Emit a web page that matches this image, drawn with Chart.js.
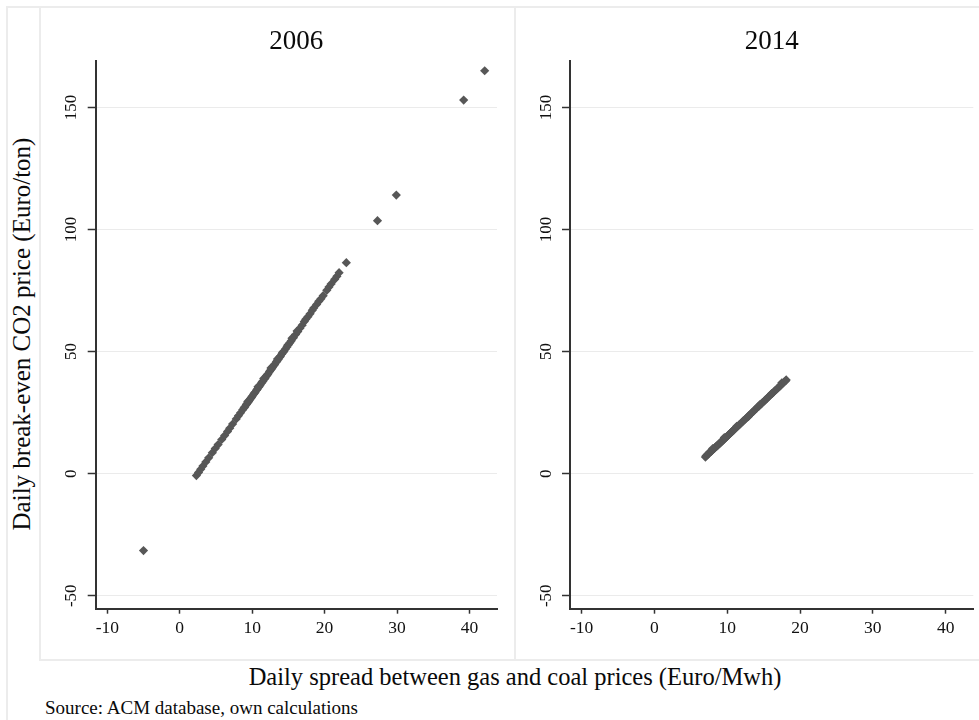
<!DOCTYPE html>
<html>
<head>
<meta charset="utf-8">
<script src="https://cdn.jsdelivr.net/npm/chart.js@4.4.1/dist/chart.umd.min.js"></script>
<style>
  body { margin: 0; background: #fff; }
  #page { position: relative; width: 979px; height: 720px; overflow: hidden; font-family: 'Liberation Serif', 'Times New Roman', serif; color: #0a0a0a; }
  .frame { position: absolute; box-sizing: border-box; border: 2px solid #ececec; }
  .panel { position: absolute; top: 7px; height: 653px; }
  .txt { position: absolute; white-space: nowrap; }
</style>
</head>
<body>
<div id="page">
  <div class="frame" style="left:6px;top:6px;width:1000px;height:1000px;border-right:none;border-bottom:none"></div>
  <div class="frame" style="left:39px;top:6px;width:477px;height:655px"></div>
  <div class="frame" style="left:514px;top:6px;width:480px;height:655px"></div>
  <div class="panel" style="left:40px;width:475px"><canvas id="chart-2006"></canvas></div>
  <div class="panel" style="left:515px;width:464px"><canvas id="chart-2014"></canvas></div>
  <div class="txt" style="left:22px;top:334px;font-size:25px;transform:translate(-50%,-50%) rotate(-90deg)">Daily break-even CO2 price (Euro/ton)</div>
  <div class="txt" style="left:515px;top:677px;font-size:24.5px;transform:translate(-50%,-50%)">Daily spread between gas and coal prices (Euro/Mwh)</div>
  <div class="txt" style="left:45px;top:708px;font-size:19px;transform:translateY(-50%)">Source: ACM database, own calculations</div>
</div>
<script>
// ── Data ──────────────────────────────────────────────────────────────────────
const X_TICKS = [-10, 0, 10, 20, 30, 40];
const Y_TICKS = [-50, 0, 50, 100, 150];

const X_2006 = [-5.0, 2.3, 2.6, 2.9, 3.2, 3.6, 4.0, 4.5, 4.9, 5.3, 5.8, 6.2, 6.6, 6.9, 7.3, 7.8, 8.1, 8.4, 8.7,
  8.9, 9.0, 9.2, 9.3, 9.5, 9.6, 9.8, 9.9, 10.0, 10.2, 10.3, 10.4, 10.6, 10.7, 10.9, 11.0, 11.1, 11.3, 11.4, 11.5,
  11.7, 11.8, 12.0, 12.1, 12.2, 12.4, 12.5, 12.7, 12.8, 13.0, 13.1, 13.3, 13.4, 13.6, 13.8, 13.9, 14.1, 14.3, 14.4,
  14.6, 14.8, 15.0, 15.2, 15.4, 15.7, 16.0, 16.3, 16.6, 16.9, 17.2, 17.4, 17.7, 18.0, 18.3, 18.5, 18.9, 19.2, 19.5,
  19.8, 20.3, 20.6, 20.9, 21.4, 21.7, 22.0, 23.0, 27.3, 29.9, 39.2, 42.1,
  9.4, 10.8, 11.6, 12.6, 13.5, 14.2, 14.9, 15.5, 16.2];
const Y_2006 = [-31.5, -0.8, 0.5, 1.8, 3.1, 4.8, 6.5, 8.6, 10.3, 11.9, 14.0, 15.6, 17.3, 18.6, 20.3, 22.4, 23.7, 24.9, 26.2,
  27.0, 27.4, 28.3, 28.7, 29.5, 30.0, 30.8, 31.2, 31.7, 32.5, 32.9, 33.3, 34.2, 34.6, 35.4, 35.9, 36.3, 37.1, 37.6, 38.0,
  38.8, 39.2, 40.1, 40.5, 40.9, 41.8, 42.2, 43.0, 43.5, 44.3, 44.7, 45.6, 46.0, 46.8, 47.7, 48.1, 49.0, 49.8, 50.2,
  51.1, 51.9, 52.8, 53.6, 54.4, 55.7, 57.0, 58.2, 59.6, 60.8, 62.3, 63.2, 64.3, 65.5, 66.9, 67.8, 69.3, 70.6, 71.6,
  72.9, 75.1, 76.4, 77.7, 79.6, 80.8, 82.3, 86.4, 103.6, 114.1, 153.0, 165.0,
  29.6, 35.6, 39.0, 43.3, 47.0, 49.6, 52.6, 55.5, 58.4];

const X_2014 = [7.0, 7.1, 7.2, 7.3, 7.4, 7.5, 7.6, 7.7, 7.8, 7.9, 8.0, 8.1, 8.2, 8.3, 8.4, 8.5, 8.6, 8.7, 8.8, 8.9,
  9.0, 9.1, 9.2, 9.3, 9.4, 9.5, 9.6, 9.7, 9.8, 9.9, 10.0, 10.1, 10.2, 10.3, 10.4, 10.5, 10.6, 10.7, 10.8, 10.9, 11.0,
  11.2, 11.4, 11.6, 11.8, 12.0, 12.2, 12.4, 12.6, 12.8, 13.0, 13.2, 13.4, 13.6, 13.8, 14.0, 14.2, 14.4, 14.6, 14.8,
  15.0, 15.2, 15.4, 15.6, 15.8, 16.0, 16.2, 16.4, 16.6, 16.8, 17.0, 17.2, 17.4, 17.5, 17.6, 17.8, 18.0, 18.1,
  8.0, 9.6, 11.3, 12.9, 14.5, 16.1];
const Y_2014 = [6.8, 7.3, 7.5, 7.9, 8.1, 8.4, 8.8, 9.0, 9.1, 9.5, 9.8, 10.0, 10.3, 10.6, 10.9, 11.2, 11.4, 11.6, 12.0, 12.3,
  12.5, 12.8, 13.1, 13.4, 13.6, 14.0, 14.2, 14.5, 14.7, 15.1, 15.3, 15.7, 15.9, 16.2, 16.5, 16.8, 17.0, 17.4, 17.6, 17.9, 18.2,
  18.8, 19.3, 19.9, 20.4, 21.0, 21.6, 22.1, 22.7, 23.2, 23.9, 24.4, 25.0, 25.5, 26.2, 26.7, 27.3, 27.8, 28.4, 29.0,
  29.5, 30.1, 30.6, 31.3, 31.8, 32.4, 32.9, 33.5, 34.1, 34.6, 35.2, 35.7, 36.4, 37.2, 36.9, 37.5, 38.0, 38.4,
  10.3, 14.8, 19.4, 23.4, 28.3, 32.8];

// ── Shared look ───────────────────────────────────────────────────────────────
const FONT   = "'Liberation Serif', 'Times New Roman', serif";
const MARKER = '#575757';
const AXIS   = '#333';

function makePanel(id, title, xs, ys, yWidth, rightPad) {
  const points = xs.map((x, i) => ({ x, y: ys[i] }));
  return new Chart(document.getElementById(id), {
    type: 'scatter',
    data: { datasets: [{
      data: points,
      pointStyle: 'rectRot',
      pointRadius: 4.6,
      pointBackgroundColor: MARKER,
      pointBorderWidth: 0,
      pointHoverRadius: 4.6,
    }] },
    options: {
      responsive: true, maintainAspectRatio: false,
      animation: false,
      events: [],
      layout: { padding: { left: 0, right: rightPad, top: 0, bottom: 0 } },
      plugins: {
        legend: { display: false },
        tooltip: { enabled: false },
        title: {
          display: true, text: title, fullSize: false,
          color: '#0a0a0a', font: { family: FONT, size: 27, weight: 'normal', lineHeight: 1.2 },
          padding: { top: 18.5, bottom: 3.1 },
        },
      },
      scales: {
        x: {
          type: 'linear', min: -11.6, max: 43.8,
          afterBuildTicks: s => { s.ticks = X_TICKS.map(v => ({ value: v })); },
          afterFit: s => { s.height = 51.3; },
          grid: { drawOnChartArea: false, drawTicks: true, tickLength: 5, tickColor: AXIS, tickWidth: 1.5 },
          border: { display: true, color: AXIS, width: 2 },
          ticks: { color: '#111', font: { family: FONT, size: 17.5 }, padding: 4, maxRotation: 0 },
        },
        y: {
          type: 'linear', min: -55.3, max: 169,
          afterBuildTicks: s => { s.ticks = Y_TICKS.map(v => ({ value: v })); },
          afterFit: s => { s.width = yWidth; },
          grid: { color: '#ebebeb', lineWidth: 1, drawTicks: true, tickLength: 8, tickColor: AXIS, tickWidth: 1.5 },
          border: { display: true, color: AXIS, width: 2 },
          ticks: { color: '#111', font: { family: FONT, size: 17 }, padding: 3.2,
                   minRotation: 90, maxRotation: 90, crossAlign: 'center' },
        },
      },
    },
  });
}

makePanel('chart-2006', '2006', X_2006, Y_2006, 55.7, 18);
makePanel('chart-2014', '2014', X_2014, Y_2014, 55, 5.7);
</script>
</body>
</html>
